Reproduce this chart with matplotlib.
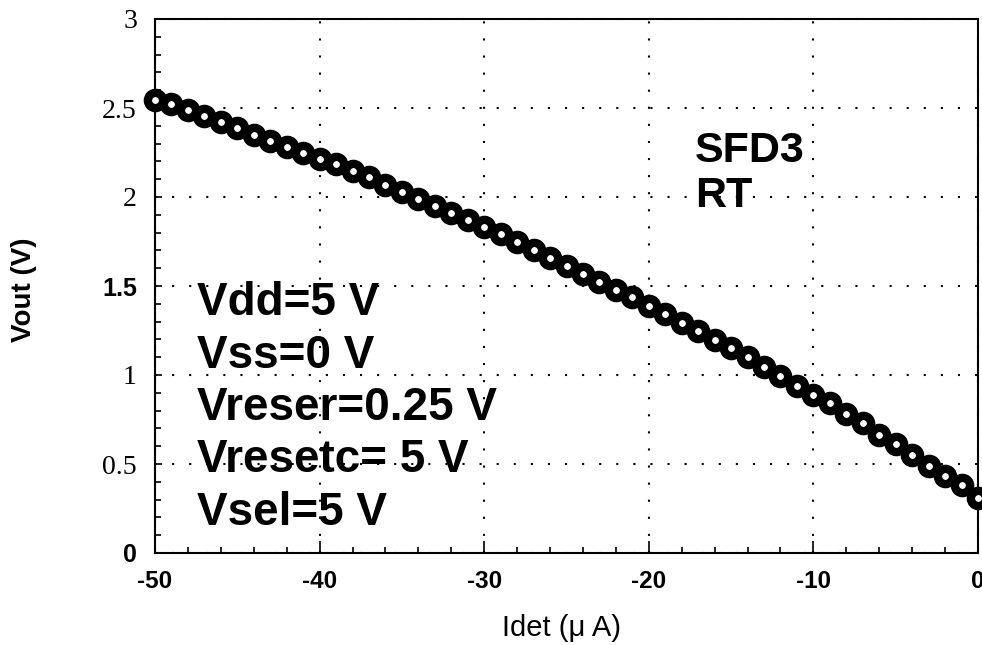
import matplotlib
matplotlib.use("Agg")
import matplotlib.pyplot as plt
from matplotlib.ticker import MultipleLocator

# Data
idet = [-50, -49, -48, -47, -46, -45, -44, -43, -42, -41,
        -40, -39, -38, -37, -36, -35, -34, -33, -32, -31,
        -30, -29, -28, -27, -26, -25, -24, -23, -22, -21,
        -20, -19, -18, -17, -16, -15, -14, -13, -12, -11,
        -10, -9, -8, -7, -6, -5, -4, -3, -2, -1, 0]
vout = [2.545, 2.52, 2.49, 2.455, 2.42, 2.39, 2.35, 2.315, 2.28, 2.25,
        2.215, 2.185, 2.145, 2.11, 2.07, 2.03, 1.99, 1.95, 1.91, 1.87,
        1.83, 1.79, 1.745, 1.70, 1.66, 1.615, 1.57, 1.525, 1.48, 1.44,
        1.39, 1.345, 1.29, 1.245, 1.195, 1.15, 1.10, 1.045, 0.995, 0.94,
        0.885, 0.84, 0.78, 0.73, 0.665, 0.61, 0.55, 0.49, 0.43, 0.38, 0.31]

xticks = [-50, -40, -30, -20, -10, 0]
xticklabels = ["-50", "-40", "-30", "-20", "-10", "0"]
yticks = [0, 0.5, 1, 1.5, 2, 2.5, 3]
yticklabels = ["0", "0.5", "1", "1.5", "2", "2.5", "3"]
bold_sans_ylabels = ["0", "1.5"]

conditions = ["Vdd=5 V", "Vss=0 V", "Vreser=0.25 V", "Vresetc= 5 V", "Vsel=5 V"]
device = ["SFD3", "RT"]

fig = plt.figure(figsize=(9.82, 6.45), dpi=100)
ax = fig.add_axes([155/982, 1-553/645, (978-155)/982, (553-19)/645])

ax.plot(idet, vout, linestyle="none", marker="o", markersize=11,
        markerfacecolor="white", markeredgecolor="black",
        markeredgewidth=6, clip_on=False, zorder=5)

ax.set_xlim(-50, 0)
ax.set_ylim(0, 3)

for s in ax.spines.values():
    s.set_linewidth(1.5)

ax.set_xticks(xticks)
ax.set_xticklabels(xticklabels, fontfamily="Liberation Sans", fontweight="bold", fontsize=17.5)
ax.xaxis.set_minor_locator(MultipleLocator(2))
ax.set_yticks(yticks)
ax.set_yticklabels(yticklabels)
ax.yaxis.set_minor_locator(MultipleLocator(0.1))
for lab in ax.get_yticklabels():
    if lab.get_text() in bold_sans_ylabels:
        lab.set_fontfamily("Liberation Sans")
        lab.set_fontweight("bold")
        lab.set_fontsize(18)
    else:
        lab.set_fontfamily("Liberation Serif")
        lab.set_fontsize(20)

ax.tick_params(axis="x", which="major", direction="in", length=9, width=1.2, pad=12)
ax.tick_params(axis="x", which="minor", direction="in", length=4, width=1.2)
ax.tick_params(axis="y", which="major", direction="in", length=5, width=1.2, pad=13)
ax.tick_params(axis="y", which="minor", direction="in", length=4, width=1.2)

ax.grid(True, which="major", color="black", linestyle=(0, (1, 7.2)), linewidth=1.5)

ax.set_xlabel("Idet (\u03bc A)", fontfamily="Liberation Sans", fontsize=21)
ax.xaxis.set_label_coords((562 - 155) / 823, (553 - 628) / 534)
ax.xaxis.label.set_verticalalignment("center")
ax.set_ylabel("Vout (V)", fontfamily="Liberation Sans", fontweight="bold", fontsize=20)
ax.yaxis.set_label_coords((24 - 155) / 823, (553 - 290) / 534)
ax.yaxis.label.set_verticalalignment("center")

y0 = 303
for i, t in enumerate(conditions):
    ypx = y0 + i * 52.5
    fig.text(197/982, 1 - ypx/645, t, fontfamily="Liberation Sans", fontweight="bold",
             fontsize=33, va="center", ha="left")

for i, t in enumerate(device):
    ypx = 151 + i * 45
    fig.text(695/982, 1 - ypx/645, t, fontfamily="Liberation Sans", fontweight="bold",
             fontsize=31, va="center", ha="left")

fig.savefig("out.png", dpi=100)
